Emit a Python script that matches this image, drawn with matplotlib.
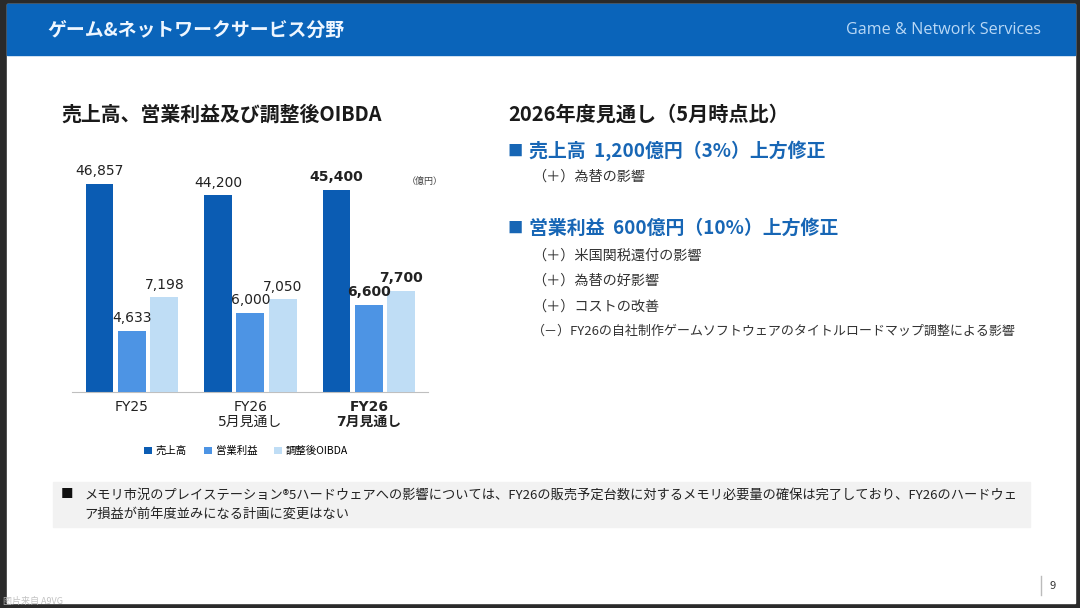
import matplotlib
matplotlib.use("Agg")
import matplotlib.pyplot as plt
from matplotlib.patches import Rectangle
import numpy as np

# chart data (億円)
categories = ["FY25", "FY26\n5月見通し", "FY26\n7月見通し"]
sales = [46857, 44200, 45400]
op_income = [4633, 6000, 6600]
oibda = [7198, 7050, 7700]
series_names = ["売上高", "営業利益", "調整後OIBDA"]

# right side notes
outlook_title = "2026年度見通し（5月時点比）"
sales_head = "売上高  1,200億円（3%）上方修正"
sales_items = ["（＋）為替の影響"]
op_head = "営業利益  600億円（10%）上方修正"
op_items = ["（＋）米国関税還付の影響",
            "（＋）為替の好影響",
            "（＋）コストの改善",
            "（－）FY26の自社制作ゲームソフトウェアのタイトルロードマップ調整による影響"]
note_lines = ["メモリ市況のプレイステーション®5ハードウェアへの影響については、FY26の販売予定台数に対するメモリ必要量の確保は完了しており、FY26のハードウェ",
              "ア損益が前年度並みになる計画に変更はない"]

JP = ["Noto Sans CJK JP", "DejaVu Sans"]
NUM = ["DejaVu Sans", "Noto Sans CJK JP"]
plt.rcParams['font.family'] = JP

W, H = 1080, 608
c_dark = "#0B5CB3"
c_mid = "#4D94E4"
c_light = "#BFDDF5"
c_head = "#0A64BA"
c_blue_txt = "#1766B5"


def fx(x):
    return x / W


def fy(y):
    return 1 - y / H


fig = plt.figure(figsize=(10.8, 6.08), dpi=100, facecolor="#2a2a2a")

# slide background, header bar, note box
fig.add_artist(Rectangle((fx(7), fy(603)), fx(1075) - fx(7), fy(4) - fy(603),
                         transform=fig.transFigure, color="white", zorder=0))
fig.add_artist(Rectangle((fx(7), fy(55)), fx(1075) - fx(7), fy(4) - fy(55),
                         transform=fig.transFigure, color=c_head, zorder=1))
fig.add_artist(Rectangle((fx(53), fy(527)), fx(1030) - fx(53), fy(482) - fy(527),
                         transform=fig.transFigure, color="#F2F2F2", zorder=1))

fig.text(fx(47), fy(30), "ゲーム&ネットワークサービス分野", fontsize=13.6, fontweight="bold",
         color="#EEF6FF", va="center", ha="left")
fig.text(fx(1041), fy(30), "Game & Network Services", fontsize=11.6, family="Open Sans",
         color="#B9D8F6", va="center", ha="right")

# chart
ax = fig.add_axes([fx(72), fy(392), fx(428) - fx(72), fy(150) - fy(392)])
ax2 = ax.twinx()
x = np.arange(len(categories))
bw = 0.236
off = 0.274

b1 = ax.bar(x - off, sales, bw, color=c_dark, label=series_names[0])
b2 = ax2.bar(x, op_income, bw, color=c_mid, label=series_names[1])
b3 = ax2.bar(x + off, oibda, bw, color=c_light, label=series_names[2])

ax.set_xlim(-0.506, 2.498)
ax.set_ylim(0, 54400)
ax2.set_ylim(0, 18360)

for a in (ax, ax2):
    a.set_facecolor("none")
    for s in ("top", "left", "right"):
        a.spines[s].set_visible(False)
    a.spines["bottom"].set_color("#BFBFBF")
    a.set_yticks([])
ax2.spines["bottom"].set_visible(False)

for a, cont, vals in ((ax, b1, sales), (ax2, b2, op_income), (ax2, b3, oibda)):
    for i, (bar, v) in enumerate(zip(cont, vals)):
        a.annotate(f"{v:,}", (bar.get_x() + bar.get_width() / 2, v),
                   xytext=(0, 4), textcoords="offset points", ha="center", va="bottom",
                   fontsize=10, family=NUM, color="#222222",
                   fontweight="bold" if i == 2 else "normal")

ax.set_xticks(x)
ax.set_xticklabels(categories, fontsize=10, family=NUM, color="#222222", linespacing=1.05)
ax.get_xticklabels()[2].set_fontweight("bold")
ax.tick_params(axis="x", length=0, pad=6)

fig.text(fx(425), fy(181), "（億円）", fontsize=6.5, color="#444444", ha="center", va="center")

fig.legend(handles=[b1, b2, b3], labels=series_names, loc="center",
           bbox_to_anchor=(fx(246), fy(451)), ncol=3, frameon=False, fontsize=7.5,
           handlelength=0.75, handleheight=0.75, handletextpad=0.4, columnspacing=1.6)

fig.text(fx(61), fy(114), "売上高、営業利益及び調整後OIBDA", fontsize=14.3, fontweight="bold",
         color="#1a1a1a", va="center", ha="left")

# right column
fig.text(fx(508), fy(114), outlook_title, fontsize=14.5, fontweight="bold",
         color="#1a1a1a", va="center", ha="left")

fig.text(fx(507), fy(151), "■", fontsize=11, color=c_blue_txt, va="center", ha="left")
fig.text(fx(529), fy(151), sales_head, fontsize=13.6, fontweight="bold",
         color=c_blue_txt, va="center", ha="left")
for i, t in enumerate(sales_items):
    fig.text(fx(532), fy(177 + 25.5 * i), t, fontsize=10.2, color="#333333", va="center", ha="left")

fig.text(fx(507), fy(228), "■", fontsize=11, color=c_blue_txt, va="center", ha="left")
fig.text(fx(529), fy(228), op_head, fontsize=13.6, fontweight="bold",
         color=c_blue_txt, va="center", ha="left")
for i, t in enumerate(op_items):
    # the long last line is set in a proportional face in the slide, so shrink it a bit
    fs = 9.4 if len(t) > 30 else 10.2
    fig.text(fx(532), fy(255.5 + 25.4 * i), t, fontsize=fs, color="#333333", va="center", ha="left")

# bottom note
fig.text(fx(61), fy(495), "■", fontsize=9, color="#111111", va="center", ha="left")
for i, t in enumerate(note_lines):
    fig.text(fx(84), fy(495 + 19 * i), t, fontsize=9.5, color="#222222", va="center", ha="left")

# page number
fig.add_artist(plt.Line2D([fx(1041), fx(1041)], [fy(576), fy(595)],
                          transform=fig.transFigure, color="#BBBBBB", lw=1))
fig.text(fx(1049), fy(586), "9", fontsize=8, color="#333333", va="center", ha="left")

fig.text(fx(3), fy(601), "图片来自 A9VG", fontsize=6.5, family=["Noto Sans CJK SC", "DejaVu Sans"],
         color="#BBBBBB", va="center", ha="left", alpha=0.9)

fig.savefig("out.png", dpi=100, facecolor=fig.get_facecolor())
